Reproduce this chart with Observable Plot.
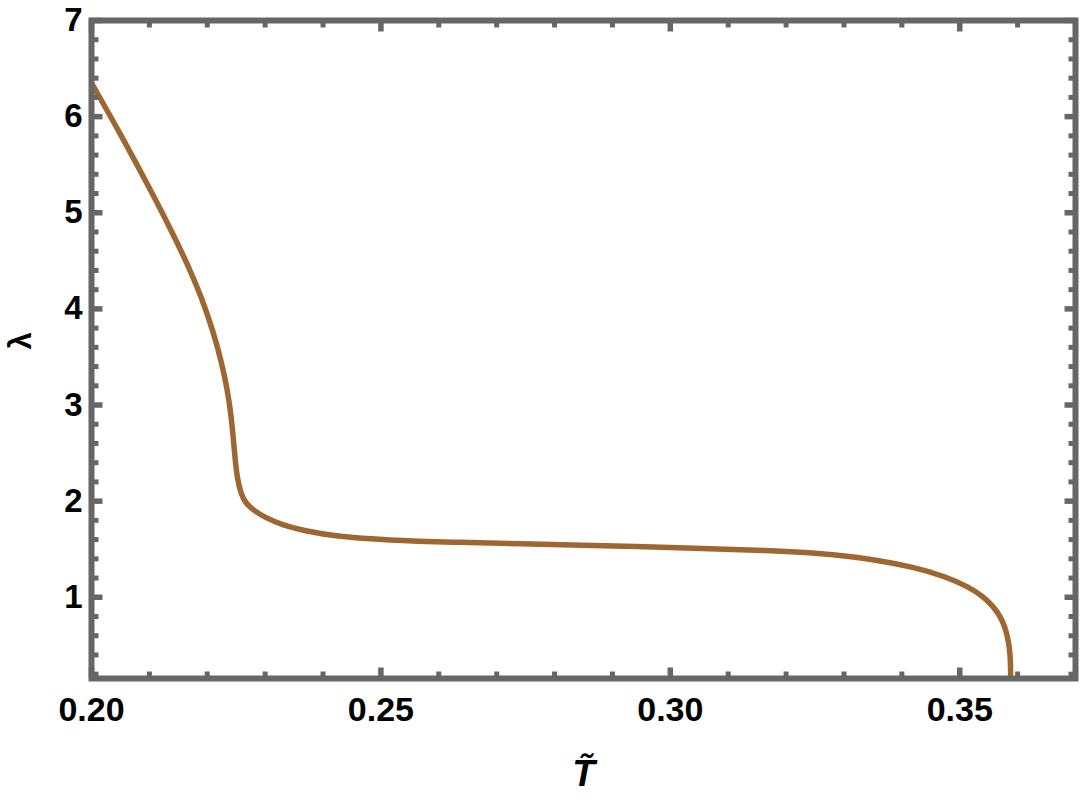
<!DOCTYPE html>
<html>
<head>
<meta charset="utf-8">
<script src="https://cdn.jsdelivr.net/npm/d3@7"></script>
<script src="https://cdn.jsdelivr.net/npm/@observablehq/plot@0.6"></script>
<style>
  html, body { margin: 0; padding: 0; background: #fff; }
  #chart { width: 1080px; height: 800px; }
</style>
</head>
<body>
<div id="chart"></div>
<script>
// Curve data: T̃ (x) and λ (y)
const tValues = [0.2000, 0.2050, 0.2100, 0.2140, 0.2170, 0.2190, 0.2210, 0.2225, 0.2235, 0.2241,
  0.2245, 0.2248, 0.2252, 0.2258, 0.2266, 0.2281, 0.2300, 0.2330, 0.2370, 0.2425,
  0.2511, 0.2626, 0.2738, 0.2879, 0.3051, 0.3167, 0.3265, 0.3335, 0.3425,
  0.3475, 0.3515, 0.3540, 0.3558, 0.3570, 0.35775, 0.3582, 0.35852, 0.35870, 0.35878, 0.3588];
const lambdaValues = [6.35, 5.82, 5.26, 4.79, 4.41, 4.12, 3.77, 3.44, 3.15, 2.90,
  2.66, 2.44, 2.23, 2.08, 1.98, 1.90, 1.83, 1.75, 1.69, 1.63,
  1.595, 1.572, 1.556, 1.537, 1.510, 1.487, 1.455, 1.41, 1.31,
  1.215, 1.11, 1.01, 0.905, 0.80, 0.70, 0.60, 0.50, 0.40, 0.30, 0.155];

// Axis domains and ticks
const xDomain = [0.20, 0.37];
const yDomain = [0.155, 7];
const xMajorTicks = [0.20, 0.25, 0.30, 0.35];
const xMinorTicks = [0.21, 0.22, 0.23, 0.24, 0.26, 0.27, 0.28, 0.29, 0.31, 0.32, 0.33, 0.34, 0.36];
const yMajorTicks = [1, 2, 3, 4, 5, 6, 7];
const yMinorTicks = [0.2, 0.4, 0.6, 0.8, 1.2, 1.4, 1.6, 1.8, 2.2, 2.4, 2.6, 2.8, 3.2, 3.4, 3.6, 3.8,
  4.2, 4.4, 4.6, 4.8, 5.2, 5.4, 5.6, 5.8, 6.2, 6.4, 6.6, 6.8];
const xLabel = "T\u0303";
const yLabel = "λ";

const curve = tValues.map((t, i) => ({T: t, lambda: lambdaValues[i]}));

const frameColor = "#666666";
const curveColor = "#9e6631";
const font = "'Liberation Sans', Arial, Helvetica, sans-serif";

const tickShape = {
  draw(context, l) {
    context.moveTo(0, 0);
    context.lineTo(0, -l);
  }
};

function ticksX(values, len, width) {
  return [
    Plot.vector(values, {x: d => d, frameAnchor: "bottom", rotate: 0, length: len, anchor: "start",
      shape: tickShape, stroke: frameColor, strokeWidth: width, strokeLinecap: "butt"}),
    Plot.vector(values, {x: d => d, frameAnchor: "top", rotate: 180, length: len, anchor: "start",
      shape: tickShape, stroke: frameColor, strokeWidth: width, strokeLinecap: "butt"})
  ];
}
function ticksY(values, len, width) {
  return [
    Plot.vector(values, {y: d => d, frameAnchor: "left", rotate: 90, length: len, anchor: "start",
      shape: tickShape, stroke: frameColor, strokeWidth: width, strokeLinecap: "butt"}),
    Plot.vector(values, {y: d => d, frameAnchor: "right", rotate: -90, length: len, anchor: "start",
      shape: tickShape, stroke: frameColor, strokeWidth: width, strokeLinecap: "butt"})
  ];
}

const chart = Plot.plot({
  width: 1080,
  height: 800,
  marginTop: 20,
  marginBottom: 122,
  marginLeft: 91,
  marginRight: 5,
  style: {background: "#fff", color: "#000", fontFamily: font, overflow: "visible"},
  x: {domain: xDomain, axis: null},
  y: {domain: yDomain, axis: null},
  marks: [
    Plot.line(curve, {x: "T", y: "lambda", stroke: curveColor, strokeWidth: 5.5, curve: "basis", clip: true}),
    ...ticksX(xMinorTicks, 7, 5),
    ...ticksX(xMajorTicks, 11, 5.5),
    ...ticksY(yMinorTicks.filter(v => v > yDomain[0]), 7, 5),
    ...ticksY(yMajorTicks, 11, 5.5),
    Plot.frame({stroke: frameColor, strokeWidth: 6}),
    Plot.axisX({ticks: xMajorTicks, tickFormat: d3.format(".2f"), tickSize: 0, tickPadding: 18,
      fontSize: 34, fontWeight: "bold", fill: "#000", label: null}),
    Plot.axisY({ticks: yMajorTicks, tickFormat: d => String(d), tickSize: 0, tickPadding: 9,
      fontSize: 33, fontWeight: "bold", fill: "#000", label: null}),
    Plot.text([yLabel], {text: d => d, frameAnchor: "left", dx: -70, rotate: -90,
      fontSize: 31, fontWeight: "bold", fill: "#000", lineAnchor: "middle"}),
    Plot.text([xLabel], {text: d => d, frameAnchor: "bottom", dy: 96,
      fontSize: 37, fontWeight: "bold", fontStyle: "italic", fill: "#000", lineAnchor: "middle"})
  ]
});
document.getElementById("chart").appendChild(chart);
</script>
</body>
</html>
